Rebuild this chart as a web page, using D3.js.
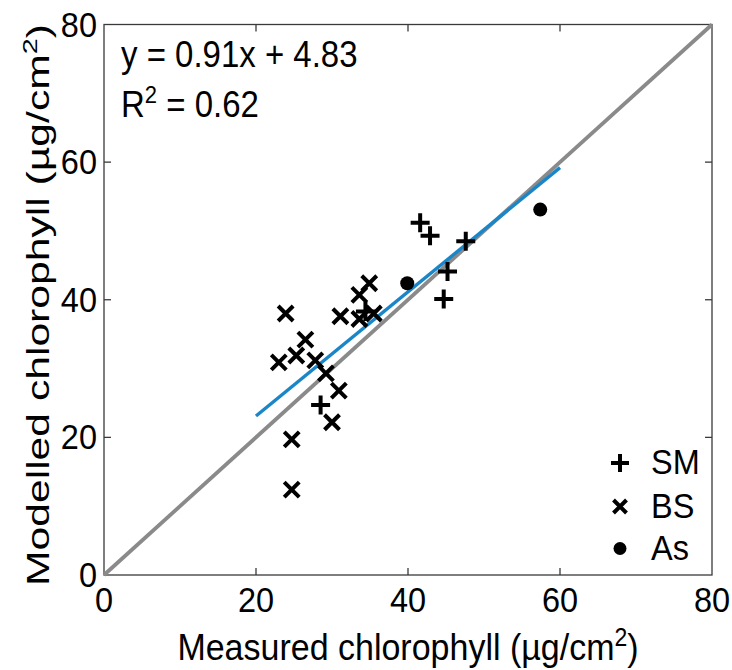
<!DOCTYPE html>
<html>
<head>
<meta charset="utf-8">
<script src="https://cdn.jsdelivr.net/npm/d3@7"></script>
<style>
  html, body { margin: 0; padding: 0; background: #fff; }
  svg { display: block; }
  text { font-family: "Liberation Sans", Arial, sans-serif; fill: #000; }
</style>
</head>
<body>
<svg id="chart" width="732" height="670"></svg>
<script>
// ---- data ----
const smX = [41.6, 42.9, 47.6, 45.2, 44.7, 28.5, 34.4];
const smY = [51.2, 49.3, 48.5, 44.1, 40.1, 24.7, 38.3];
const bsX = [23.9, 23.0, 25.3, 26.5, 27.8, 29.2, 30.9, 30.0, 24.7, 24.7, 31.1, 33.6, 34.9, 33.6, 35.5];
const bsY = [38.0, 30.9, 31.9, 34.2, 31.2, 29.3, 26.8, 22.2, 19.7, 12.4, 37.6, 40.7, 42.4, 37.2, 38.0];
const asX = [39.9, 57.4];
const asY = [42.4, 53.1];
const fitX = [20, 60];
const fitY = [23.1, 59.2];
const oneX = [0, 80];
const oneY = [0, 80];
const tickVals = [0, 20, 40, 60, 80];
const legendLabels = ["SM", "BS", "As"];

const svg = d3.select("#chart");
const L = 104, R = 712, T = 24.5, B = 575;
const x = d3.scaleLinear().domain([0, 80]).range([L, R]);
const y = d3.scaleLinear().domain([0, 80]).range([B, T]);
const SY = 1.1; // vertical stretch of glyphs seen in the reference

// frame
svg.append("rect").attr("x", L).attr("y", T).attr("width", R - L).attr("height", B - T)
  .attr("fill", "none").attr("stroke", "#3a3a3a").attr("stroke-width", 1.3);

// inward ticks on all four sides
const tl = 7;
const inner = tickVals.slice(1, -1);
const tg = svg.append("g").attr("stroke", "#3a3a3a").attr("stroke-width", 1.3);
inner.forEach(v => {
  tg.append("line").attr("x1", x(v)).attr("x2", x(v)).attr("y1", B).attr("y2", B - tl);
  tg.append("line").attr("x1", x(v)).attr("x2", x(v)).attr("y1", T).attr("y2", T + tl);
  tg.append("line").attr("y1", y(v)).attr("y2", y(v)).attr("x1", L).attr("x2", L + tl);
  tg.append("line").attr("y1", y(v)).attr("y2", y(v)).attr("x1", R).attr("x2", R - tl);
});

function stretchedText(g, tx, ty, anchor, size) {
  return g.append("text")
    .attr("transform", `translate(${tx},${ty}) scale(1,${SY})`)
    .attr("text-anchor", anchor)
    .style("font-size", size + "px");
}

// tick labels
tickVals.forEach(v => {
  stretchedText(svg, x(v), 612, "middle", 32.5).text(v);
  stretchedText(svg, 97, y(v) + 12, "end", 32.5).text(v);
});

// axis titles
const xl = stretchedText(svg, (L + R) / 2, 660, "middle", 34);
xl.append("tspan").text("Measured chlorophyll (\u00b5g/cm");
xl.append("tspan").attr("dy", -13).style("font-size", "23px").text("2");
xl.append("tspan").attr("dy", 13).text(")");

const yl = svg.append("text")
  .attr("transform", `translate(49,${(22 + 588) / 2}) rotate(-90)`)
  .attr("text-anchor", "middle")
  .attr("textLength", 562)
  .attr("lengthAdjust", "spacingAndGlyphs")
  .style("font-size", "31px");
yl.append("tspan").text("Modelled chlorophyll (\u00b5g/cm");
yl.append("tspan").attr("dy", -12).style("font-size", "21px").text("2");
yl.append("tspan").attr("dy", 12).text(")");

// lines
const line = d3.line().x(d => x(d[0])).y(d => y(d[1]));
svg.append("path").datum(d3.zip(oneX, oneY)).attr("d", line)
  .attr("fill", "none").attr("stroke", "#8a8a8a").attr("stroke-width", 3.8);
svg.append("path").datum(d3.zip(fitX, fitY)).attr("d", line)
  .attr("fill", "none").attr("stroke", "#1a86c8").attr("stroke-width", 3.4);

// markers
const plusPath = s => `M${-s},0H${s}M0,${-s}V${s}`;
const crossPath = s => `M${-s},${-s}L${s},${s}M${-s},${s}L${s},${-s}`;
const mk = svg.append("g");
d3.zip(smX, smY).forEach(d => mk.append("path")
  .attr("transform", `translate(${x(d[0])},${y(d[1])})`).attr("d", plusPath(9.5))
  .attr("stroke", "#000").attr("stroke-width", 4).attr("fill", "none"));
d3.zip(bsX, bsY).forEach(d => mk.append("path")
  .attr("transform", `translate(${x(d[0])},${y(d[1])})`).attr("d", crossPath(7.5))
  .attr("stroke", "#000").attr("stroke-width", 4).attr("fill", "none"));
d3.zip(asX, asY).forEach(d => mk.append("circle")
  .attr("cx", x(d[0])).attr("cy", y(d[1])).attr("r", 7).attr("fill", "#000"));

// equation text
const eq = svg.append("g");
stretchedText(eq, 121, 67, "start", 33).text("y = 0.91x + 4.83");
const r2 = stretchedText(eq, 121, 117, "start", 33);
r2.append("tspan").text("R");
r2.append("tspan").attr("dy", -13).style("font-size", "22px").text("2");
r2.append("tspan").attr("dy", 13).text(" = 0.62");

// legend
const lg = svg.append("g");
const legY = [463, 506.5, 548.5];
legendLabels.forEach((lab, i) => {
  const cy = legY[i];
  if (i === 0) lg.append("path").attr("transform", `translate(620,${cy})`).attr("d", plusPath(9))
    .attr("stroke", "#000").attr("stroke-width", 4).attr("fill", "none");
  if (i === 1) lg.append("path").attr("transform", `translate(620,${cy})`).attr("d", crossPath(6.5))
    .attr("stroke", "#000").attr("stroke-width", 4).attr("fill", "none");
  if (i === 2) lg.append("circle").attr("cx", 620).attr("cy", cy).attr("r", 6.5).attr("fill", "#000");
  stretchedText(lg, 651, cy + 9.5 * 1.2, "start", 32.5).text(lab);
});
</script>
</body>
</html>
